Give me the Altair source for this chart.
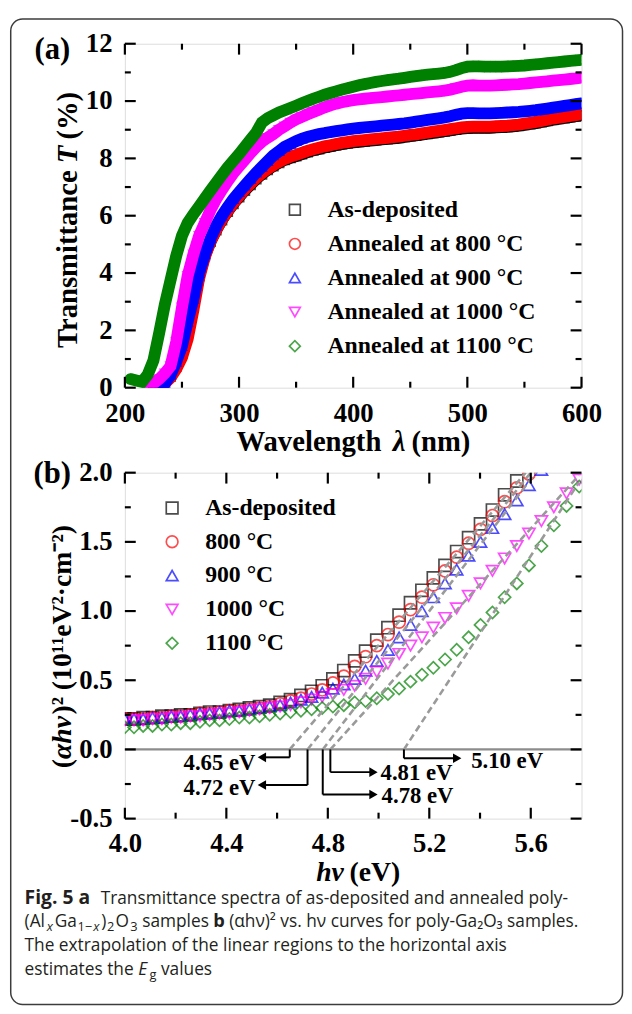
import altair as alt
import pandas as pd

# ---------------- data ----------------
SERIES = ["As-deposited", "800 °C", "900 °C", "1000 °C", "1100 °C"]
COLORS = ["#000000", "#ff0000", "#0000ff", "#ff00ff", "#008000"]
SHAPES = ["square", "circle", "triangle-up", "triangle-down", "diamond"]
LEGEND_A = ["As-deposited", "Annealed at 800 °C", "Annealed at 900 °C",
            "Annealed at 1000 °C", "Annealed at 1100 °C"]
LEGEND_B = ["As-deposited", "800 °C", "900 °C", "1000 °C", "1100 °C"]

# panel (a): transmittance (%) vs wavelength (nm), 205..600 nm every 5 nm
WAVELENGTH = list(range(205, 601, 5))
T_ASDEP = [None, None, None, None, 0.05, 0.10, 0.20, 0.40, 0.75, 1.20,
           1.90, 2.90, 3.90, 4.60, 5.10, 5.50, 5.85, 6.15, 6.42, 6.65,
           6.88, 7.08, 7.28, 7.45, 7.60, 7.73, 7.85, 7.95, 8.02, 8.08,
           8.15, 8.22, 8.28, 8.33, 8.38, 8.42, 8.46, 8.50, 8.53, 8.56,
           8.58, 8.60, 8.62, 8.64, 8.66, 8.68, 8.70, 8.72, 8.75, 8.78,
           8.80, 8.83, 8.86, 8.89, 8.92, 8.95, 8.98, 9.01, 9.04, 9.06,
           9.07, 9.07, 9.07, 9.07, 9.08, 9.09, 9.10, 9.12, 9.14, 9.17,
           9.20, 9.23, 9.27, 9.31, 9.35, 9.38, 9.41, 9.44, 9.47, 9.50]
T_800 = [None, None, None, None, None, 0.05, 0.15, 0.35, 0.65, 1.05,
         1.70, 2.70, 3.80, 4.55, 5.10, 5.50, 5.86, 6.16, 6.44, 6.68,
         6.91, 7.11, 7.31, 7.48, 7.63, 7.76, 7.88, 7.98, 8.06, 8.12,
         8.19, 8.26, 8.32, 8.37, 8.42, 8.46, 8.50, 8.54, 8.57, 8.60,
         8.62, 8.64, 8.66, 8.68, 8.70, 8.72, 8.74, 8.76, 8.79, 8.82,
         8.84, 8.87, 8.90, 8.93, 8.96, 8.99, 9.02, 9.05, 9.08, 9.10,
         9.11, 9.11, 9.11, 9.11, 9.12, 9.13, 9.14, 9.16, 9.18, 9.21,
         9.24, 9.27, 9.31, 9.35, 9.39, 9.42, 9.45, 9.48, 9.51, 9.55]
T_900 = [None, None, None, None, None, 0.05, 0.15, 0.45, 0.90, 1.45,
         2.30, 3.10, 4.00, 4.65, 5.20, 5.65, 6.00, 6.30, 6.58, 6.82,
         7.05, 7.28, 7.50, 7.70, 7.90, 8.10, 8.25, 8.40, 8.50, 8.60,
         8.68, 8.75, 8.80, 8.85, 8.88, 8.92, 8.95, 8.98, 9.01, 9.04,
         9.06, 9.08, 9.10, 9.12, 9.14, 9.16, 9.18, 9.20, 9.22, 9.25,
         9.28, 9.31, 9.34, 9.37, 9.40, 9.43, 9.47, 9.52, 9.56, 9.58,
         9.58, 9.57, 9.57, 9.57, 9.58, 9.59, 9.60, 9.61, 9.62, 9.64,
         9.66, 9.68, 9.71, 9.74, 9.77, 9.80, 9.83, 9.86, 9.89, 9.92]
T_1000 = [None, None, None, 0.05, 0.15, 0.30, 0.50, 0.75, 1.60, 2.80,
          3.90, 4.65, 5.30, 5.75, 6.20, 6.58, 6.90, 7.20, 7.48, 7.72,
          7.95, 8.18, 8.40, 8.58, 8.72, 8.85, 9.00, 9.12, 9.25, 9.36,
          9.45, 9.54, 9.62, 9.70, 9.78, 9.85, 9.91, 9.96, 10.00, 10.03,
          10.06, 10.08, 10.10, 10.12, 10.14, 10.16, 10.18, 10.20, 10.22, 10.24,
          10.26, 10.28, 10.30, 10.32, 10.34, 10.36, 10.40, 10.45, 10.50, 10.54,
          10.55, 10.54, 10.54, 10.54, 10.55, 10.56, 10.57, 10.58, 10.59, 10.61,
          10.63, 10.65, 10.67, 10.69, 10.71, 10.73, 10.75, 10.77, 10.79, 10.82]
T_1100 = [0.30, 0.25, 0.20, 0.45, 0.95, 1.90, 2.90, 3.75, 4.60, 5.30,
          5.75, 6.05, 6.32, 6.60, 6.88, 7.15, 7.42, 7.68, 7.92, 8.15,
          8.40, 8.65, 8.90, 9.25, 9.40, 9.50, 9.60, 9.68, 9.76, 9.84,
          9.92, 10.00, 10.08, 10.15, 10.22, 10.28, 10.34, 10.40, 10.45, 10.50,
          10.55, 10.59, 10.63, 10.67, 10.70, 10.73, 10.76, 10.78, 10.81, 10.84,
          10.87, 10.90, 10.92, 10.94, 10.96, 10.98, 11.02, 11.08, 11.15, 11.20,
          11.21, 11.21, 11.20, 11.20, 11.20, 11.20, 11.21, 11.22, 11.23, 11.24,
          11.26, 11.28, 11.30, 11.32, 11.34, 11.36, 11.38, 11.40, 11.42, 11.44]

# panel (b): (alpha h nu)^2 (1e11 eV^2 cm^-2) vs photon energy (eV)
ENERGY = [4.000, 4.036, 4.072, 4.109, 4.146, 4.183, 4.220, 4.258, 4.296, 4.334,
          4.373, 4.412, 4.451, 4.491, 4.531, 4.571, 4.612, 4.653, 4.694, 4.736,
          4.778, 4.820, 4.863, 4.906, 4.949, 4.993, 5.037, 5.081, 5.126, 5.171,
          5.216, 5.262, 5.308, 5.355, 5.402, 5.449, 5.497, 5.545, 5.593, 5.642,
          5.691, 5.741, 5.791]
AHV_ASDEP = [0.22, 0.22, 0.23, 0.23, 0.24, 0.24, 0.25, 0.25, 0.26, 0.27,
             0.27, 0.28, 0.29, 0.30, 0.31, 0.32, 0.34, 0.36, 0.39, 0.42,
             0.46, 0.51, 0.57, 0.64, 0.71, 0.79, 0.88, 0.97, 1.06, 1.15,
             1.24, 1.33, 1.43, 1.53, 1.63, 1.73, 1.84, 1.94, None, None,
             None, None, None]
AHV_800 = [0.22, 0.22, 0.22, 0.23, 0.23, 0.24, 0.24, 0.25, 0.26, 0.26,
           0.27, 0.28, 0.28, 0.29, 0.30, 0.31, 0.33, 0.35, 0.37, 0.40,
           0.43, 0.48, 0.53, 0.60, 0.67, 0.75, 0.83, 0.92, 1.01, 1.10,
           1.19, 1.29, 1.39, 1.49, 1.59, 1.69, 1.79, 1.89, 1.99, None,
           None, None, None]
AHV_900 = [0.22, 0.22, 0.22, 0.23, 0.23, 0.24, 0.24, 0.25, 0.26, 0.26,
           0.27, 0.28, 0.28, 0.29, 0.30, 0.31, 0.32, 0.34, 0.36, 0.38,
           0.41, 0.44, 0.47, 0.51, 0.57, 0.64, 0.72, 0.81, 0.90, 1.00,
           1.10, 1.20, 1.30, 1.40, 1.50, 1.60, 1.70, 1.80, 1.91, 2.02,
           None, None, None]
AHV_1000 = [0.21, 0.21, 0.21, 0.22, 0.22, 0.23, 0.23, 0.24, 0.24, 0.25,
            0.26, 0.26, 0.27, 0.28, 0.29, 0.30, 0.31, 0.32, 0.34, 0.36,
            0.38, 0.40, 0.43, 0.46, 0.51, 0.56, 0.62, 0.69, 0.75, 0.81,
            0.88, 0.95, 1.02, 1.11, 1.20, 1.29, 1.38, 1.47, 1.56, 1.65,
            1.75, 1.85, 1.95]
AHV_1100 = [0.16, 0.16, 0.17, 0.17, 0.18, 0.18, 0.19, 0.19, 0.20, 0.21,
            0.21, 0.22, 0.23, 0.23, 0.24, 0.25, 0.26, 0.27, 0.28, 0.29,
            0.30, 0.31, 0.32, 0.34, 0.35, 0.37, 0.40, 0.44, 0.49, 0.54,
            0.59, 0.65, 0.72, 0.81, 0.90, 0.99, 1.10, 1.20, 1.33, 1.47,
            1.62, 1.76, 1.90]

# linear extrapolations and band-gap annotations
EG_VALUES = [4.65, 4.72, 4.78, 4.81, 5.10]
EG_LABELS = ["4.65 eV", "4.72 eV", "4.78 eV", "4.81 eV", "5.10 eV"]
FIT_TOP_E = [5.58, 5.60, 5.62, 5.79, 5.79]
FIT_TOP_V = [2.00, 2.00, 2.00, 1.98, 1.93]
ARROW_DEPTH = [-0.057, -0.257, -0.326, -0.164, -0.064]
ARROW_TIP = [4.52, 4.52, 5.00, 5.00, 5.33]
ARROW_DIR = ["left", "left", "right", "right", "right"]
LABEL_E = [4.515, 4.515, 5.012, 5.008, 5.365]
LABEL_V = [-0.100, -0.279, -0.336, -0.171, -0.086]

XA_MAJOR = [200, 300, 400, 500, 600]
XA_MINOR = [250, 350, 450, 550]
YA_MAJOR = [0, 2, 4, 6, 8, 10, 12]
YA_MINOR = [1, 3, 5, 7, 9, 11]
XB_MAJOR = [4.0, 4.4, 4.8, 5.2, 5.6]
XB_MINOR = [4.2, 4.6, 5.0, 5.4]
YB_MAJOR = [-0.5, 0.0, 0.5, 1.0, 1.5, 2.0]
YB_MINOR = [-0.25, 0.25, 0.75, 1.25, 1.75]

# ---------------- helpers ----------------
SERIF = "Liberation Serif"
SANS = "Open Sans"
WA, HA = 462, 348
WB, HB = 462, 350

COLOR = alt.Color("series:N", scale=alt.Scale(domain=SERIES, range=COLORS), legend=None)
SHAPE = alt.Shape("series:N", scale=alt.Scale(domain=SERIES, range=SHAPES), legend=None)


def long_df(xs, ys_list, xname, yname):
    rows = []
    for s, ys in zip(SERIES, ys_list):
        for x, y in zip(xs, ys):
            if y is not None:
                rows.append({xname: x, yname: y, "series": s})
    return pd.DataFrame(rows)


def one(t=""):
    return pd.DataFrame({"t": [t]})


def txt(text, x, y, size, align="left", baseline="alphabetic", weight="bold",
        style="normal", font=SERIF, angle=0, color="black"):
    return alt.Chart(one(text)).mark_text(
        align=align, baseline=baseline, font=font, fontSize=size,
        fontWeight=weight, fontStyle=style, angle=angle, color=color
    ).encode(x=alt.value(x), y=alt.value(y), text="t:N")


def make_axis(values, fmt, pad=13, expr=None):
    kw = dict(values=values, format=fmt, ticks=False, tickSize=0, domain=False,
              grid=False, labelFont=SERIF, labelFontWeight="bold", labelFontSize=27,
              labelColor="black", labelPadding=pad, labelFlush=False,
              labelOverlap=False, title=None)
    if expr:
        kw["labelExpr"] = expr
    return alt.Axis(**kw)


def tick_layers(xenc, yenc, xmaj, xmin, ymaj, ymin, W, H, major=11, minor=6):
    out = []
    for vals, L in ((xmaj, major), (xmin, minor)):
        d = pd.DataFrame({"v": vals})
        out.append(alt.Chart(d).mark_rule(color="black", strokeWidth=2.2).encode(
            x=xenc("v"), y=alt.value(H), y2=alt.value(H - L)))
        out.append(alt.Chart(d).mark_rule(color="black", strokeWidth=2.2).encode(
            x=xenc("v"), y=alt.value(0), y2=alt.value(L)))
    for vals, L in ((ymaj, major), (ymin, minor)):
        d = pd.DataFrame({"v": vals})
        out.append(alt.Chart(d).mark_rule(color="black", strokeWidth=2.2).encode(
            y=yenc("v"), x=alt.value(0), x2=alt.value(L)))
        out.append(alt.Chart(d).mark_rule(color="black", strokeWidth=2.2).encode(
            y=yenc("v"), x=alt.value(W), x2=alt.value(W - L)))
    return out


def legend_layers(labels, mx, tx, y0, dy, size=120):
    out = []
    for i, (lab, col, shp) in enumerate(zip(labels, COLORS, SHAPES)):
        y = y0 + i * dy
        out.append(alt.Chart(one(lab)).mark_point(
            shape=shp, filled=False, size=size, strokeWidth=1.7, color=col
        ).encode(x=alt.value(mx), y=alt.value(y)))
        out.append(txt(lab, tx, y, 24, baseline="middle"))
    return out


# ---------------- panel (a) ----------------
XS_A = alt.Scale(domain=[200, 600], nice=False, zero=False)
YS_A = alt.Scale(domain=[0, 12], nice=False, zero=False)
AX_AX = make_axis(XA_MAJOR, "d")
AX_AY = make_axis(YA_MAJOR, "d")


def XA(f):
    return alt.X(f, type="quantitative", scale=XS_A, axis=AX_AX)


def YA(f):
    return alt.Y(f, type="quantitative", scale=YS_A, axis=AX_AY)


dfA = long_df(WAVELENGTH, [T_ASDEP, T_800, T_900, T_1000, T_1100], "wl", "T")

# rounded border round the whole figure
frame = alt.Chart(one()).mark_rect(
    fill="transparent", stroke="#3c3c3c", strokeWidth=1.5, cornerRadius=12
).encode(x=alt.value(-115.5), x2=alt.value(503.5), y=alt.value(-25), y2=alt.value(972))

layersA = [frame]
for s in SERIES:
    base = alt.Chart(dfA).transform_filter(alt.datum.series == s)
    # dense measured points form a thick band in the original figure
    layersA.append(base.mark_line(strokeWidth=12, clip=True, strokeCap="round").encode(
        x=XA("wl"), y=YA("T"), color=COLOR))
    layersA.append(base.mark_point(filled=False, size=90, strokeWidth=1.6, clip=True).encode(
        x=XA("wl"), y=YA("T"), color=COLOR, shape=SHAPE))
layersA += tick_layers(XA, YA, XA_MAJOR, XA_MINOR, YA_MAJOR, YA_MINOR, WA, HA)
layersA += legend_layers(LEGEND_A, 172, 205, 168, 34.5)
layersA += [
    txt("(a)", -91.5, 15, 31),
    txt("Wavelength", 259.5, 412, 29, align="right"),
    txt("λ", 277.5, 412, 29, align="center", style="italic"),
    txt("(nm)", 290, 412, 29),
    txt("Transmittance", -48.5, 128, 29, align="right", angle=270),
    txt("T", -48.5, 112, 29, align="center", style="italic", angle=270),
    txt("(%)", -48.5, 97, 29, align="left", angle=270),
]
panelA = alt.layer(*layersA).properties(width=WA, height=HA)

# ---------------- panel (b) ----------------
XS_B = alt.Scale(domain=[4.0, 5.8], nice=False, zero=False)
YS_B = alt.Scale(domain=[-0.5, 2.0], nice=False, zero=False)
AX_BX = make_axis(XB_MAJOR, ".1f", pad=12)
AX_BY = make_axis(YB_MAJOR, ".1f", expr="replace(datum.label, '\u2212', '-')")


def XB(f):
    return alt.X(f, type="quantitative", scale=XS_B, axis=AX_BX)


def YB(f):
    return alt.Y(f, type="quantitative", scale=YS_B, axis=AX_BY)


dfB = long_df(ENERGY, [AHV_ASDEP, AHV_800, AHV_900, AHV_1000, AHV_1100], "E", "V")

fit_rows = []
for i, (eg, te, tv) in enumerate(zip(EG_VALUES, FIT_TOP_E, FIT_TOP_V)):
    fit_rows.append({"id": i, "E": eg, "V": 0.0})
    fit_rows.append({"id": i, "E": te, "V": tv})
dfFit = pd.DataFrame(fit_rows)

dfArr = pd.DataFrame({
    "Eg": EG_VALUES, "zero": [0.0] * len(EG_VALUES), "depth": ARROW_DEPTH,
    "tip": ARROW_TIP, "dir": ARROW_DIR, "label": EG_LABELS,
    "lE": LABEL_E, "lV": LABEL_V,
})
dfArr["head"] = [t + 0.02 if d == "left" else t - 0.02 for t, d in zip(ARROW_TIP, ARROW_DIR)]

zero_line = alt.Chart(one()).mark_rule(color="#8c8c8c", strokeWidth=2.2).encode(
    x=alt.value(0), x2=alt.value(WB), y=YB("z:Q")
).transform_calculate(z="0")

pointsB = alt.Chart(dfB).mark_point(filled=False, size=150, strokeWidth=1.7, clip=True).encode(
    x=XB("E"), y=YB("V"), color=COLOR, shape=SHAPE)

fits = alt.Chart(dfFit).mark_line(color="#9a9a9a", strokeWidth=2.6, strokeDash=[7, 4], clip=True).encode(
    x=XB("E"), y=YB("V"), detail="id:N")

arr_v = alt.Chart(dfArr).mark_rule(color="black", strokeWidth=2).encode(
    x=XB("Eg"), y=YB("zero"), y2=alt.Y2("depth"))
arr_h = alt.Chart(dfArr).mark_rule(color="black", strokeWidth=2).encode(
    x=XB("Eg"), x2=alt.X2("head"), y=YB("depth"))
head_l = alt.Chart(dfArr).transform_filter("datum.dir == 'left'").mark_point(
    shape="triangle-left", filled=True, size=95, color="black", opacity=1).encode(x=XB("head"), y=YB("depth"))
head_r = alt.Chart(dfArr).transform_filter("datum.dir == 'right'").mark_point(
    shape="triangle-right", filled=True, size=95, color="black", opacity=1).encode(x=XB("head"), y=YB("depth"))
lab_l = alt.Chart(dfArr).transform_filter("datum.dir == 'left'").mark_text(
    align="right", baseline="middle", font=SERIF, fontWeight="bold", fontSize=23, color="black"
).encode(x=XB("lE"), y=YB("lV"), text="label:N")
lab_r = alt.Chart(dfArr).transform_filter("datum.dir == 'right'").mark_text(
    align="left", baseline="middle", font=SERIF, fontWeight="bold", fontSize=23, color="black"
).encode(x=XB("lE"), y=YB("lV"), text="label:N")

CAP = "#231f20"
OX = 125.5  # page x of panel (b) plot origin, used to place caption pieces
L1, L2, L3, L4 = 436, 460, 484, 508


def cap(text, px, y, size=17.5, weight="normal", style="normal"):
    return txt(text, px - OX, y, size, font=SANS, weight=weight, style=style, color=CAP)


layersB = [zero_line, pointsB, fits, arr_v, arr_h, head_l, head_r, lab_l, lab_r]
layersB += tick_layers(XB, YB, XB_MAJOR, XB_MINOR, YB_MAJOR, YB_MINOR, WB, HB)
layersB += legend_layers(LEGEND_B, 47.8, 81.2, 35.7, 34.2, size=140)
layersB += [
    txt("(b)", -92.5, 10, 31),
    txt("hν", 221.5, 413, 28, align="right", style="italic"),
    txt("(eV)", 227.3, 413, 28),
    txt("(", -54.5, 299, 28, align="left", angle=270),
    txt("αhν", -54.5, 289.7, 28, align="left", style="italic", angle=270),
    txt(")² (10¹¹eV²·cm⁻²)", -54.5, 244.7, 28, align="left", angle=270),
    # caption
    cap("Fig. 5 a", 24, L1, size=19.5, weight="bold"),
    cap("Transmittance spectra of as-deposited and annealed poly-", 101, L1),
    cap("(Al", 24, L2),
    cap("x", 46.5, L2 + 4, size=13, style="italic"),
    cap("Ga", 54.5, L2),
    cap("1−", 77.5, L2 + 4, size=13),
    cap("x", 93.5, L2 + 4, size=13, style="italic"),
    cap(")", 101.5, L2),
    cap("2", 107.5, L2 + 4, size=13),
    cap("O", 116, L2),
    cap("3", 131, L2 + 4, size=13),
    cap("samples", 143, L2),
    cap("b", 215, L2, size=18.5, weight="bold"),
    cap("(αhν)² vs. hν curves for poly-Ga₂O₃ samples.", 231, L2),
    cap("The extrapolation of the linear regions to the horizontal axis", 24, L3),
    cap("estimates the", 24, L4),
    cap("E", 139, L4, style="italic"),
    cap("g", 150.5, L4 + 4, size=13),
    cap("values", 162, L4),
]
panelB = alt.layer(*layersB).properties(width=WB, height=HB)

chart = alt.vconcat(panelA, panelB, spacing=86, bounds="flush").properties(
    padding={"left": 1.25, "top": 3.25, "right": 0, "bottom": 0}
).configure_view(stroke="black", strokeWidth=2.5).configure(background="white")

chart.save("out.html", embed_options={"renderer": "svg", "actions": False})
